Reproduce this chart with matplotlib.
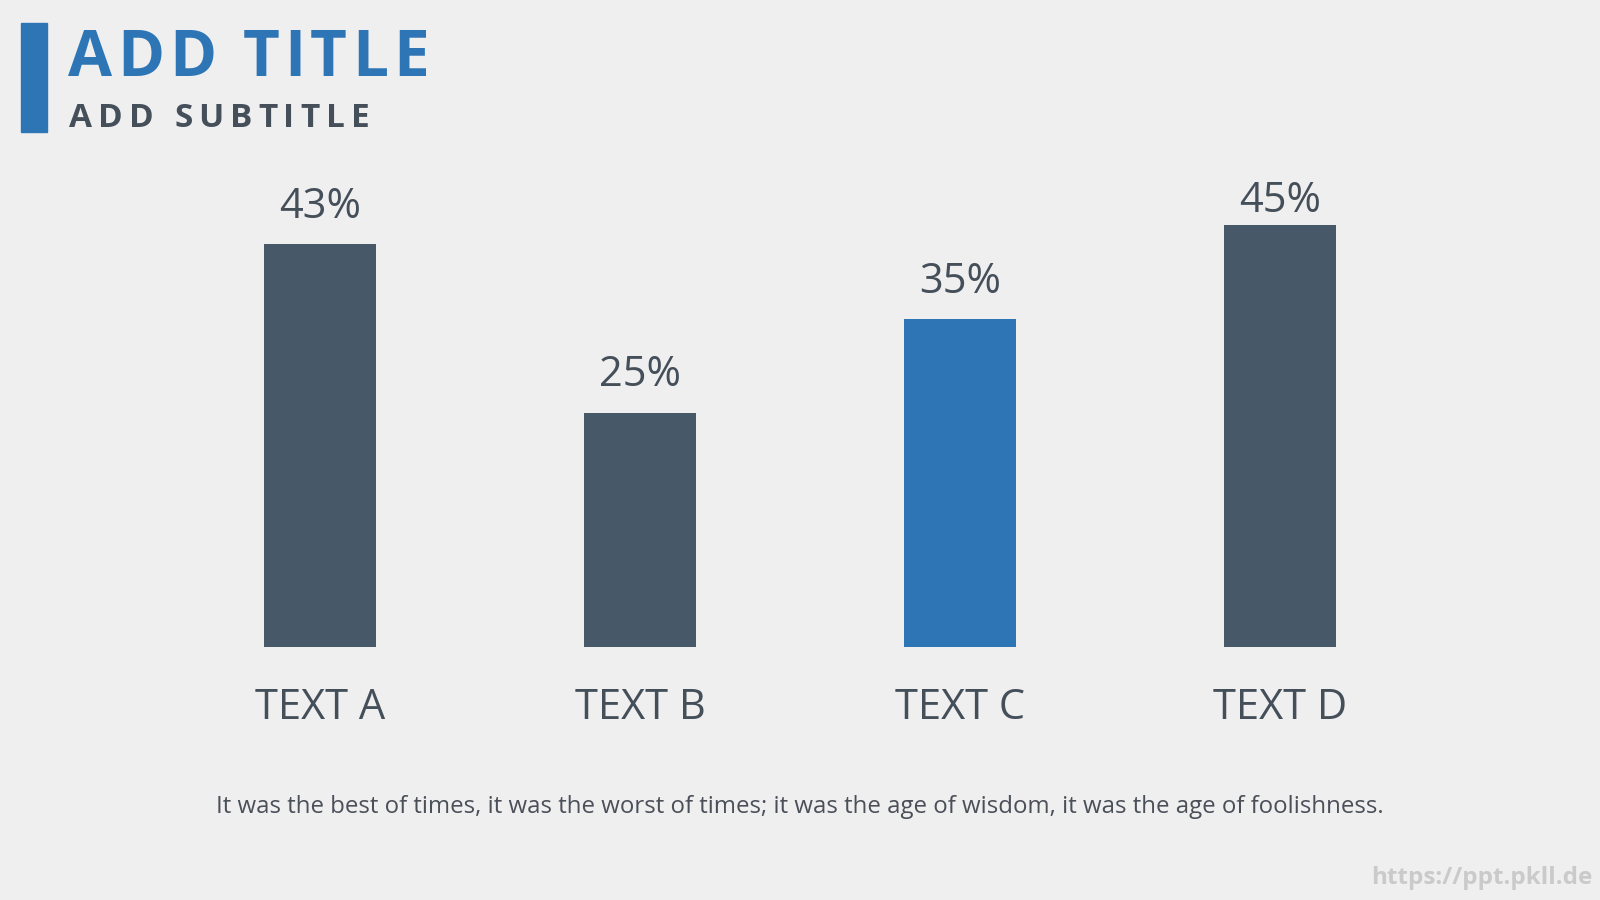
import matplotlib
matplotlib.use('Agg')
import matplotlib.pyplot as plt
from matplotlib.patches import Rectangle

categorias = ['TEXT A', 'TEXT B', 'TEXT C', 'TEXT D']
valores = [43, 25, 35, 45]
rotulos = ['43%', '25%', '35%', '45%']
titulo = 'ADD TITLE'
subtitulo = 'ADD SUBTITLE'
rodape = ('It was the best of times, it was the worst of times; '
          'it was the age of wisdom, it was the age of foolishness.')
marca = 'https://ppt.pkll.de'

fundo = '#EFEFF0'
cinza = '#475868'
azul = '#2E75B6'
cores = [cinza, cinza, azul, cinza]
# distancia (px) entre o topo da barra e o rotulo
folga = [26, 26, 26, 13]

plt.rcParams['font.family'] = ['Open Sans', 'DejaVu Sans']

W, H = 1600, 900
fig = plt.figure(figsize=(16, 9), dpi=100, facecolor=fundo)


def px(x, y):
    # pixels (origem no topo) -> fracao da figura
    return x / W, 1 - y / H


def texto_espacado(x, y, s, espaco, **kw):
    # desenha letra a letra para simular letter-spacing
    renderer = fig.canvas.get_renderer()
    for ch in s:
        t = fig.text(*px(x, y), ch, va='baseline', ha='left', **kw)
        if ch == ' ':
            larg = t.get_fontsize() * 0.26 * 100 / 72
        else:
            larg = t.get_window_extent(renderer).width
        x += larg + espaco


# barra azul lateral do titulo
fig.patches.append(Rectangle(px(21, 132), 26 / W, 109 / H,
                             transform=fig.transFigure, color=azul))
texto_espacado(68, 76, titulo, 4.8, fontsize=46, fontweight='bold', color=azul)
texto_espacado(69, 127, subtitulo, 6, fontsize=24, fontweight='bold', color='#444F5A')

# grafico de barras
base = 647
escala = 9.38  # px por ponto percentual
ax = fig.add_axes([160 / W, 1 - base / H, 1280 / W, 50 * escala / H])
ax.set_facecolor('none')
pos = range(len(categorias))
ax.bar(pos, valores, width=0.347, color=cores)
ax.set_xlim(-0.5, len(categorias) - 0.5)
ax.set_ylim(0, 50)
for i, (v, r) in enumerate(zip(valores, rotulos)):
    ax.annotate(r, (i, v), xytext=(0, folga[i] * 0.72), textcoords='offset points',
                ha='center', va='baseline', fontsize=30, color='#444F5A')
ax.set_xticks(list(pos))
ax.set_xticklabels(categorias, fontsize=30, color='#444F5A')
ax.tick_params(axis='x', length=0, pad=29)
ax.set_yticks([])
for lado in ax.spines.values():
    lado.set_visible(False)

fig.text(0.5, 1 - 813 / H, rodape, ha='center', va='baseline', fontsize=17.3, color='#4A4F58')
fig.text(1592 / W, 1 - 884 / H, marca, ha='right', va='baseline', fontsize=17.5,
         fontweight='bold', color='#CACACA')

fig.savefig('out.png', dpi=100, facecolor=fundo)
